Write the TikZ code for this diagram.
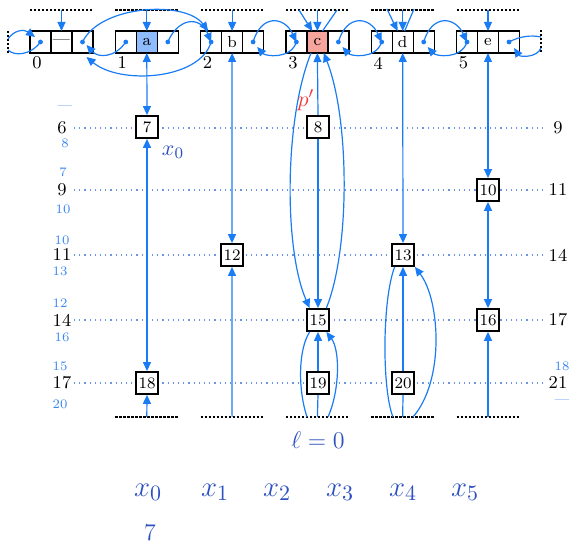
\documentclass[tikz,border=0pt]{standalone}
\usetikzlibrary{arrows.meta,positioning,calc}

\definecolor{lnblue}{RGB}{26,124,245}
\definecolor{dotblue}{RGB}{106,148,230}
\definecolor{txtblue}{RGB}{44,80,192}
\definecolor{lblblue}{RGB}{58,134,240}
\definecolor{afill}{RGB}{143,188,255}
\definecolor{cfill}{RGB}{246,165,157}
\definecolor{pred}{RGB}{240,60,60}

\tikzset{
  hcell/.style={draw, line width=0.7pt, minimum width=10.5pt, minimum height=11pt,
    inner sep=0pt, outer sep=0pt, font=\fontsize{8}{9}\selectfont},
  nbox/.style={draw, line width=0.9pt, fill=white, minimum size=11pt, inner sep=0pt,
    font=\fontsize{8}{9}\selectfont},
  bare/.style={lnblue, line width=0.6pt},
  link/.style={bare, -{Triangle[length=4.5pt,width=4pt]}},
  blink/.style={bare, {Triangle[length=4.5pt,width=4pt]}-{Triangle[length=4.5pt,width=4pt]}},
  wrapline/.style={line width=0.9pt, dash pattern=on 1.2pt off 0.8pt},
  gridrow/.style={dotblue, line width=0.6pt, dotted},
  lbl/.style={inner sep=0pt, font=\fontsize{9}{10}\selectfont},
  sml/.style={lblblue, inner sep=0pt, font=\fontsize{6.5}{7}\selectfont},
  idx/.style={font=\fontsize{9}{10}\selectfont},
  xlab/.style={txtblue, inner sep=0pt, font=\fontsize{15}{18}\selectfont},
}

\begin{document}
\begin{tikzpicture}[x=0.5pt,y=-0.5pt]
    \useasboundingbox (0,0) rectangle (574,544);

    % level rows
    \foreach \y in {128,190,255,320,383}
        \draw[gridrow] (74,\y) -- (543,\y);

    % header list
    \foreach \i/\v/\f in {0/{---}/white,1/a/afill,2/b/white,3/c/cfill,4/d/white,5/e/white} {
        \node[hcell] (L\i) at ({40.5+85.3*\i},42) {};
        \node[hcell, fill=\f, right=0pt of L\i] (M\i) {\v};
        \node[hcell, right=0pt of M\i] (R\i) {};
        \fill[lnblue] (L\i.center) circle (1.2pt);
        \fill[lnblue] (R\i.center) circle (1.2pt);
        \node[idx] at ({37+85.3*\i},63) {\i};
        \draw[wrapline] ({30+85.3*\i},10) -- ({93+85.3*\i},10);
        \coordinate (t\i) at ({61.5+85.3*\i},10);
    }
    \foreach \i in {1,...,5} {
        \draw[wrapline] ({30+85.3*\i},417) -- ({93+85.3*\i},417);
        \coordinate (b\i) at ({61.5+85.3*\i},417);
    }
    \draw[wrapline] (8,31) -- (8,53);
    \draw[wrapline] (541,30) -- (541,52);
    \coordinate (wl1) at (8,39);
    \coordinate (wl2) at (8,50);
    \coordinate (wr1) at (541,37);
    \coordinate (wr2) at (541,48);

    % column nodes
    \node[nbox] (n7) at (147,127) {7};
    \node[nbox] (n18) at (147,383) {18};
    \node[nbox] (n12) at (232,255) {12};
    \node[nbox] (n8) at (318,127) {8};
    \node[nbox] (n15) at (318,320) {15};
    \node[nbox] (n19) at (318,383) {19};
    \node[nbox] (n13) at (403,255) {13};
    \node[nbox] (n20) at (403,383) {20};
    \node[nbox] (n10) at (488,190) {10};
    \node[nbox] (n16) at (488,320) {16};

    % left/right links
    \draw[bare] (L0.center) .. controls (30,56) and (14,56) .. (wl2);
    \draw[link] (wl1) .. controls (14,30) and (24,29) .. ([shift={(-2.75pt,2.5pt)}]L0.center);
    \draw[bare] (R5.center) .. controls (520,36) and (532,35) .. (wr1);
    \draw[link] (wr2) .. controls (537,58) and (520,57) .. ([shift={(2.5pt,-3pt)}]R5.center);
    \draw[link] (R0.center) .. controls (100,5) and (185,0) .. (L2.105);
    \draw[link] (L2.center) .. controls (200,80) and (120,85) .. ([shift={(2pt,-2pt)}]R0.south);
    \draw[link] (L1.center) .. controls (115,58) and (98,58) .. ([shift={(2pt,-1.5pt)}]R0.center);
    \draw[link] (R1.center) .. controls (178,18) and (200,15) .. (L2.center);
    \foreach \k [evaluate=\k as \n using int(\k+1)] in {2,3,4} {
        \draw[link] (R\k.center) .. controls ($(R\k.center)+(8,-28)$) and ($(L\n.center)+(-12,-26)$) .. (L\n.center);
        \draw[link] (L\n.center) .. controls ($(L\n.center)+(-6,18)$) and ($(R\k.center)+(12,14)$) .. ([shift={(2pt,-2.5pt)}]R\k.center);
    }

    % column a, b, e
    \draw[link] (t0) -- (M0.north);
    \draw[link] (t1) -- (M1.north);
    \draw[blink] (M1.south) -- (n7.north);
    \draw[blink] (n7.south) -- (n18.north);
    \draw[link] (b1) -- (n18.south);
    \draw[link] (t2) -- (M2.north);
    \draw[blink] (M2.south) -- (n12.north);
    \draw[link] (b2) -- (n12.south);
    \draw[link] (t5) -- (M5.north);
    \draw[blink] (M5.south) -- (n10.north);
    \draw[blink] (n10.south) -- (n16.north);
    \draw[link] (b5) -- (n16.south);

    % column c
    \coordinate (tl3) at (299,10);
    \coordinate (tr3) at (337,10);
    \coordinate (bl3) at (307,417);
    \coordinate (br3) at (328,417);
    \draw[link] (tl3) -- (M3.115);
    \draw[link] (t3) -- (M3.north);
    \draw[bare] (M3.65) -- (tr3);
    \draw[link] (n8.north) -- (M3.south);
    \draw[link] (n8.south) -- (n15.north);
    \draw[link] (M3.240) .. controls (284,120) and (284,250) .. (n15.125);
    \draw[link] (n15.55) .. controls (350,250) and (350,120) .. (M3.300);
    \draw[bare] (n15.235) .. controls (298,350) and (298,390) .. (bl3);
    \draw[link] (n19.north) -- (n15.south);
    \draw[bare] (n19.south) -- (b3);
    \draw[link] (br3) .. controls (340,390) and (340,350) .. (n15.305);

    % column d
    \coordinate (tl4) at (387,9);
    \coordinate (tr4) at (414,9);
    \coordinate (bl4) at (393,417);
    \coordinate (br4) at (413,417);
    \draw[link] (tl4) -- (M4.115);
    \draw[link] (t4) -- (M4.north);
    \draw[bare] (M4.80) -- (tr4);
    \draw[blink] (M4.south) -- (n13.north);
    \draw[bare] (n13.235) .. controls (382,300) and (382,390) .. (bl4);
    \draw[link] (n20.north) -- (n13.south);
    \draw[bare] (n20.south) -- (b4);
    \draw[link] (br4) .. controls (445,380) and (440,300) .. (n13.south east);

    % labels
    \node[pred, font=\fontsize{11}{13}\selectfont] (plab) at (306,100) {$p'$};
    \node[txtblue, font=\fontsize{11}{13}\selectfont] (x0lab) at (173,152) {$x_0$};
    \foreach \y/\v in {128/6,190/9,255/11,320/14,383/17}
        \node[lbl] at (62,\y) {\v};
    \foreach \y/\v in {128/9,190/11,255/14,320/17,383/21}
        \node[lbl] at (558,\y) {\v};
    \foreach \x/\y/\v in {65/108/{---},65/143/8,63/172/7,63/209/10,62/240/10,60/271/13,
                          60/303/12,62/337/16,60/366/15,60/404/20,562/366/18,562/402/{---}}
        \node[sml] at (\x,\y) {\v};
    \node[txtblue, font=\fontsize{13}{15}\selectfont] (ell) at (318,440) {$\ell=0$};
    \foreach \i/\x in {0/148,1/215,2/277,3/340,4/403,5/465}
        \node[xlab] (x\i) at (\x,492) {$x_{\i}$};
    \node[xlab, font=\fontsize{12}{14}\selectfont] (seven) at (150,533) {7};
\end{tikzpicture}
\end{document}
